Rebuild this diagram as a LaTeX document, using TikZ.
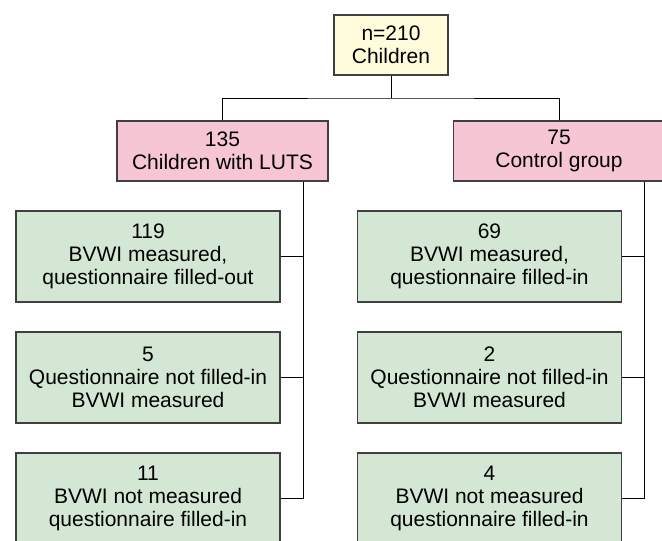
\documentclass[tikz,border=0pt]{standalone}
\usepackage{fontspec}
\setmainfont{Liberation Sans}
\usetikzlibrary{positioning,calc}
\definecolor{rootfill}{RGB}{255,252,220}
\definecolor{groupfill}{RGB}{247,198,213}
\definecolor{countfill}{RGB}{212,231,212}
\definecolor{boxline}{RGB}{64,64,64}

\begin{document}
\begin{tikzpicture}[x=1pt,y=1pt,font=\fontsize{21}{23}\selectfont,
  box/.style={draw=boxline,line width=1.3pt,align=center,inner sep=0pt},
  rootbox/.style={box,fill=rootfill,minimum width=114pt,minimum height=60pt},
  groupbox/.style={box,fill=groupfill,minimum width=211pt,minimum height=60pt},
  countbox/.style={box,fill=countfill,minimum width=264pt,minimum height=91pt},
  link/.style={line width=1pt}]
 \useasboundingbox (0,0) rectangle (662,-541);
 \node[rootbox] (root) at(391,-45){n=210\\Children};
 \node[groupbox] (luts) at(222.5,-151){135\\Children with LUTS};
 \node[groupbox] (ctrl) at(559,-151){75\\Control group};
 \node[countbox] (l1) at(148,-256.5){119\\BVWI measured,\\questionnaire filled-out};
 \node[countbox] (l2) at(148,-377.5){5\\Questionnaire not filled-in\\BVWI measured};
 \node[countbox] (l3) at(148,-498.5){11\\BVWI not measured\\questionnaire filled-in};
 \node[countbox] (r1) at(489.5,-256.5){69\\BVWI measured,\\questionnaire filled-in};
 \node[countbox] (r2) at(489.5,-377.5){2\\Questionnaire not filled-in\\BVWI measured};
 \node[countbox] (r3) at(489.5,-498.5){4\\BVWI not measured\\questionnaire filled-in};
 \coordinate (bar) at(391,-98);
 \coordinate (trunkL) at(303,0);
 \coordinate (trunkR) at(644,0);
 % split into the two groups
 \draw[link] (root)--(bar);
 \draw[link] (luts.north)|-(bar)-|(ctrl.north);
 % group trunks
 \draw[link] (luts.south -| trunkL)|-(l3.east);
 \draw[link] (l1.east)--(l1.east -| trunkL);
 \draw[link] (l2.east)--(l2.east -| trunkL);
 \draw[link] (ctrl.south -| trunkR)|-(r3.east);
 \draw[link] (r1.east)--(r1.east -| trunkR);
 \draw[link] (r2.east)--(r2.east -| trunkR);
\end{tikzpicture}
\end{document}
